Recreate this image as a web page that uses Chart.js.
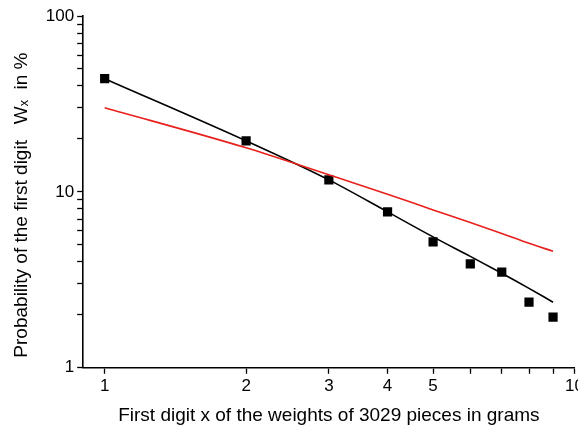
<!DOCTYPE html>
<html>
<head>
<meta charset="utf-8">
<script src="https://cdn.jsdelivr.net/npm/chart.js@4"></script>
<style>
	html, body { margin: 0; padding: 0; background: #fff; overflow: hidden; }
	#wrap { width: 586px; height: 427px; }
</style>
</head>
<body>
<div id="wrap"><canvas id="myChart"></canvas></div>
<script>
// first digit x
const digits = [1, 2, 3, 4, 5, 6, 7, 8, 9];
// measured probability in % (squares)
const observed = [44.0, 19.5, 11.7, 7.7, 5.2, 3.9, 3.5, 2.36, 1.94];
// black fitted curve
const fitted = [44.0, 19.5, 11.7, 7.7, 5.55, 4.3, 3.45, 2.83, 2.36];
// red reference curve
const benford = [30.1, 17.8, 12.5, 9.7, 7.9, 6.7, 5.8, 5.1, 4.6];

const xTicks = [1, 2, 3, 4, 5, 6, 7, 8, 9, 10];
const xLabels = [1, 2, 3, 4, 5, 10];
const yTicks = [1, 2, 3, 4, 5, 6, 7, 8, 9, 10, 20, 30, 40, 50, 60, 70, 80, 90, 100];
const yLabels = [1, 10, 100];

const font = "'Liberation Sans', Arial, Helvetica, sans-serif";

const chart = {
	toPoints: (xs, ys) => xs.map((x, i) => ({ x: x, y: ys[i] })),
	init() {
		new Chart(document.getElementById("myChart"), {
			type: "line",
			data: {
				datasets: [
					{
						label: "benford",
						data: chart.toPoints(digits, benford),
						borderColor: "#e8201c",
						borderWidth: 1.6,
						pointRadius: 0,
						cubicInterpolationMode: "monotone",
						fill: false,
					},
					{
						label: "fit",
						data: chart.toPoints(digits, fitted),
						borderColor: "#000",
						borderWidth: 1.6,
						pointRadius: 0,
						cubicInterpolationMode: "monotone",
						fill: false,
					},
					{
						label: "observed",
						data: chart.toPoints(digits, observed),
						showLine: false,
						pointStyle: "rect",
						pointRadius: 6.5,
						pointBackgroundColor: "#000",
						pointBorderColor: "#000",
						pointBorderWidth: 0,
					},
				],
			},
			options: {
				responsive: true,
				maintainAspectRatio: false,
				animation: false,
				layout: { padding: { top: 16, left: 10, right: 0, bottom: 0 } },
				plugins: {
					legend: { display: false },
					tooltip: { enabled: false },
				},
				scales: {
					x: {
						type: "logarithmic",
						min: 0.9,
						max: 10,
						afterBuildTicks: (scale) => {
							scale.ticks = xTicks.map((v) => ({ value: v }));
						},
						ticks: {
							autoSkip: false,
							maxRotation: 0,
							color: "#000",
							padding: 2,
							font: { family: font, size: 17 },
							callback: (v) => (xLabels.includes(v) ? String(v) : ""),
						},
						grid: {
							drawOnChartArea: false,
							drawTicks: true,
							tickLength: 6,
							tickColor: "#000",
							tickWidth: 1.3,
						},
						border: { color: "#000", width: 1.6 },
						title: {
							display: true,
							text: "First digit x of the weights of 3029 pieces in grams",
							color: "#000",
							font: { family: font, size: 19 },
							padding: { top: 6, bottom: 0 },
						},
					},
					y: {
						type: "logarithmic",
						min: 1,
						max: 100,
						afterBuildTicks: (scale) => {
							scale.ticks = yTicks.map((v) => ({ value: v }));
						},
						ticks: {
							autoSkip: false,
							color: "#000",
							padding: 3,
							font: { family: font, size: 17 },
							callback: (v) => (yLabels.includes(v) ? String(v) : ""),
						},
						grid: {
							drawOnChartArea: false,
							drawTicks: true,
							tickLength: 6,
							tickColor: "#000",
							tickWidth: 1.3,
						},
						border: { color: "#000", width: 1.6 },
						title: {
							display: true,
							text: "Probability of the first digit   W\u2093  in %     ",
							color: "#000",
							font: { family: font, size: 19 },
							padding: { top: 0, bottom: 10 },
						},
					},
				},
			},
		});
	},
};
chart.init();
</script>
</body>
</html>
